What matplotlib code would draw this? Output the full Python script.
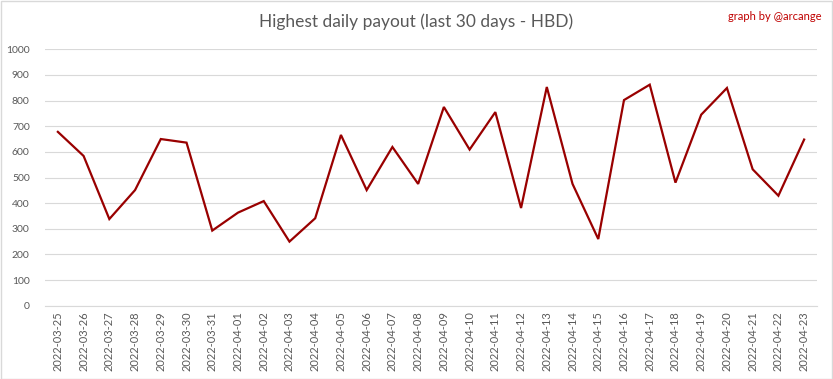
import matplotlib
matplotlib.use("Agg")
import matplotlib.pyplot as plt
from matplotlib.patches import Rectangle

dates = ["2022-03-25", "2022-03-26", "2022-03-27", "2022-03-28", "2022-03-29", "2022-03-30",
         "2022-03-31", "2022-04-01", "2022-04-02", "2022-04-03", "2022-04-04", "2022-04-05",
         "2022-04-06", "2022-04-07", "2022-04-08", "2022-04-09", "2022-04-10", "2022-04-11",
         "2022-04-12", "2022-04-13", "2022-04-14", "2022-04-15", "2022-04-16", "2022-04-17",
         "2022-04-18", "2022-04-19", "2022-04-20", "2022-04-21", "2022-04-22", "2022-04-23"]
payout = [678, 584, 338, 451, 650, 636, 293, 363, 408, 250, 341, 666, 451, 619, 475,
          775, 609, 755, 381, 853, 475, 260, 802, 862, 480, 745, 849, 532, 429, 648]
yticks = [0, 100, 200, 300, 400, 500, 600, 700, 800, 900, 1000]

plt.rcParams['font.family'] = ['Lato', 'DejaVu Sans']

W, H = 833, 379
fig = plt.figure(figsize=(W / 100, H / 100), dpi=100)
fig.patch.set_facecolor("white")
fig.add_artist(Rectangle((0.5 / W, 0.5 / H), (W - 1.5) / W, (H - 1.5) / H,
                         transform=fig.transFigure, fill=False,
                         edgecolor="#d9d9d9", linewidth=1))

left, right, top, bottom = 45, 817, 49.3, 305.7
ax = fig.add_axes([left / W, 1 - bottom / H, (right - left) / W, (bottom - top) / H])

x = list(range(len(dates)))
ax.plot(x, payout, color="#990000", linewidth=1.6, solid_joinstyle="miter")
ax.set_xlim(-0.5, len(dates) - 0.5)
ax.set_ylim(0, 1000)
ax.set_yticks(yticks)
ax.set_yticklabels([str(v) for v in yticks], fontsize=7.5, color="#595959")
ax.set_xticks(x)
ax.set_xticklabels(dates, rotation=90, fontsize=8, color="#595959")
ax.grid(axis="y", color="#d9d9d9", linewidth=0.8)
ax.set_axisbelow(True)
for s in ["top", "right", "left"]:
    ax.spines[s].set_visible(False)
ax.spines["bottom"].set_color("#d9d9d9")
ax.spines["bottom"].set_linewidth(0.8)
ax.tick_params(axis="both", length=0, pad=4)
ax.tick_params(axis="y", pad=11)

fig.text(0.5, 1 - 22 / H, "Highest daily payout (last 30 days - HBD)",
         ha="center", va="center", fontsize=12.5, color="#595959")
fig.text(822 / W, 1 - 16 / H, "graph by @arcange", ha="right", va="center",
         fontsize=8, color="#c00000")

fig.savefig("out.png", dpi=100, facecolor="white")
